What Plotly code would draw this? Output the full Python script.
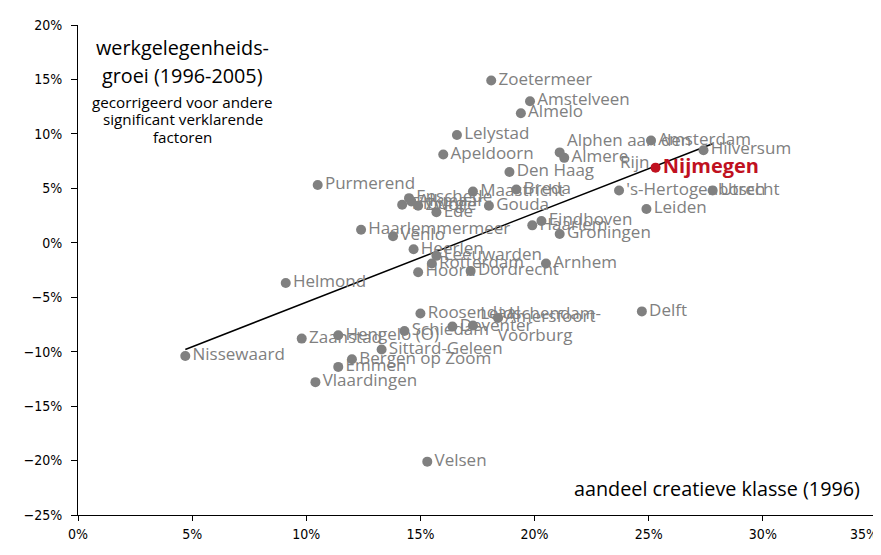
import plotly.graph_objects as go

# gemeenten: aandeel creatieve klasse (1996, %) en gecorrigeerde werkgelegenheidsgroei (1996-2005, %)
nb = "\u00a0"
names = [
    "Zoetermeer", "Amstelveen", "Almelo", "Lelystad", "Apeldoorn", "Den Haag",
    "Alphen aan den<br>" + nb * 12 + "Rijn", "Almere", "Amsterdam", "Hilversum",
    "'s-Hertogenbosch", "Utrecht", "Leiden", "Eindhoven", "Haarlem", "Groningen",
    "Gouda", "Breda", "Maastricht", "Enschede", "Alkmaar", "Tilburg", "Zwolle", "Ede",
    "Purmerend", "Haarlemmermeer", "Venlo", "Heerlen", "Leeuwarden", "Rotterdam",
    "Hoorn", "Dordrecht", "Arnhem", "Helmond", "Nissewaard", "Zaanstad",
    "Hengelo (O)", "Schiedam", "Sittard-Geleen", "Bergen op Zoom", "Emmen",
    "Vlaardingen", "Roosendaal", "Deventer",
    "Leidschendam-<br>" + nb * 4 + "Voorburg", "Amersfoort",
    "Delft", "Velsen",
]
creative = [
    18.1, 19.8, 19.4, 16.6, 16.0, 18.9,
    21.1, 21.3, 25.1, 27.4,
    23.7, 27.8, 24.9, 20.3, 19.9, 21.1,
    18.0, 19.2, 17.3, 14.5, 14.6, 14.2, 14.9, 15.7,
    10.5, 12.4, 13.8, 14.7, 15.7, 15.5,
    14.9, 17.2, 20.5, 9.1, 4.7, 9.8,
    11.4, 14.3, 13.3, 12.0, 11.4,
    10.4, 15.0, 16.4,
    17.3, 18.4,
    24.7, 15.3,
]
growth = [
    14.9, 13.0, 11.9, 9.9, 8.1, 6.5,
    8.3, 7.8, 9.4, 8.5,
    4.8, 4.8, 3.1, 2.0, 1.6, 0.8,
    3.4, 4.9, 4.7, 4.1, 3.8, 3.5, 3.4, 2.8,
    5.3, 1.2, 0.6, -0.6, -1.2, -1.9,
    -2.7, -2.6, -1.9, -3.7, -10.4, -8.8,
    -8.5, -8.1, -9.8, -10.7, -11.4,
    -12.8, -6.5, -7.7,
    -7.6, -6.9,
    -6.3, -20.1,
]

nijmegen_x = [25.3]
nijmegen_y = [6.9]

# trendlijn (begin- en eindpunt)
trend_x = [4.7, 27.8]
trend_y = [-9.8, 9.1]

x_ticks = [0, 5, 10, 15, 20, 25, 30, 35]
x_labels = ["0%", "5%", "10%", "15%", "20%", "25%", "30%", ""]  # 35% set as a note so it is not cut off

grey = "#808080"
red = "#c0111f"
font = "Open Sans"
tickfont = dict(family="DejaVu Sans Condensed, Roboto", size=14, color="black")

fig = go.Figure()
fig.add_trace(go.Scatter(
    x=trend_x, y=trend_y, mode="lines",
    line=dict(color="black", width=1.5), hoverinfo="skip",
))
fig.add_trace(go.Scatter(
    x=creative, y=growth, mode="markers+text", text=names,
    textposition="middle right",
    textfont=dict(family=font, size=17, color=grey),
    marker=dict(color=grey, size=10),
))
fig.add_trace(go.Scatter(
    x=nijmegen_x, y=nijmegen_y, mode="markers+text", text=["<b>Nijmegen</b>"],
    textposition="middle right",
    textfont=dict(family=font, size=20, color=red),
    marker=dict(color=red, size=10),
))


def note(text, y, size, x=0.131, xanchor="center"):
    return dict(x=x, y=y, xref="paper", yref="paper", showarrow=False,
                xanchor=xanchor, yanchor="middle", text=text,
                font=dict(family=font, size=size, color="black"))


# the page body has an 8px margin, so the figure is sized to fit inside it
fig.update_layout(
    width=873, height=535,
    margin=dict(l=70, r=4, t=17, b=28),
    paper_bgcolor="white", plot_bgcolor="white",
    showlegend=False,
    font=dict(family=font, size=14, color="black"),
    xaxis=dict(
        range=[0, 35], tickvals=x_ticks, ticktext=x_labels,
        showgrid=False, zeroline=False,
        showline=True, linecolor="black", linewidth=1, automargin=False,
        ticks="outside", ticklen=5, tickcolor="black", tickfont=tickfont,
        ticklabelstandoff=1, ticklabeloverflow="allow",
    ),
    yaxis=dict(
        range=[-25, 20], dtick=5, ticksuffix="%", showgrid=False, zeroline=False,
        showline=True, linecolor="black", linewidth=1, automargin=False,
        ticks="outside", ticklen=6, tickcolor="black", tickfont=tickfont,
        ticklabelstandoff=6,
    ),
    annotations=[
        note("werkgelegenheids-", 0.955, 19.8),
        note("groei (1996-2005)", 0.896, 19.8),
        note("gecorrigeerd voor andere", 0.843, 15.2),
        note("significant verklarende", 0.808, 15.2),
        note("factoren", 0.771, 15.2),
        note("aandeel creatieve klasse (1996)", 0.055, 19.8, x=0.981, xanchor="right"),
        dict(x=x_ticks[-1], y=0, xref="x", yref="paper", showarrow=False,
             xanchor="right", yanchor="top", xshift=3, yshift=-9,
             text="35%", font=tickfont),
    ],
)

fig.write_html("out.html")
